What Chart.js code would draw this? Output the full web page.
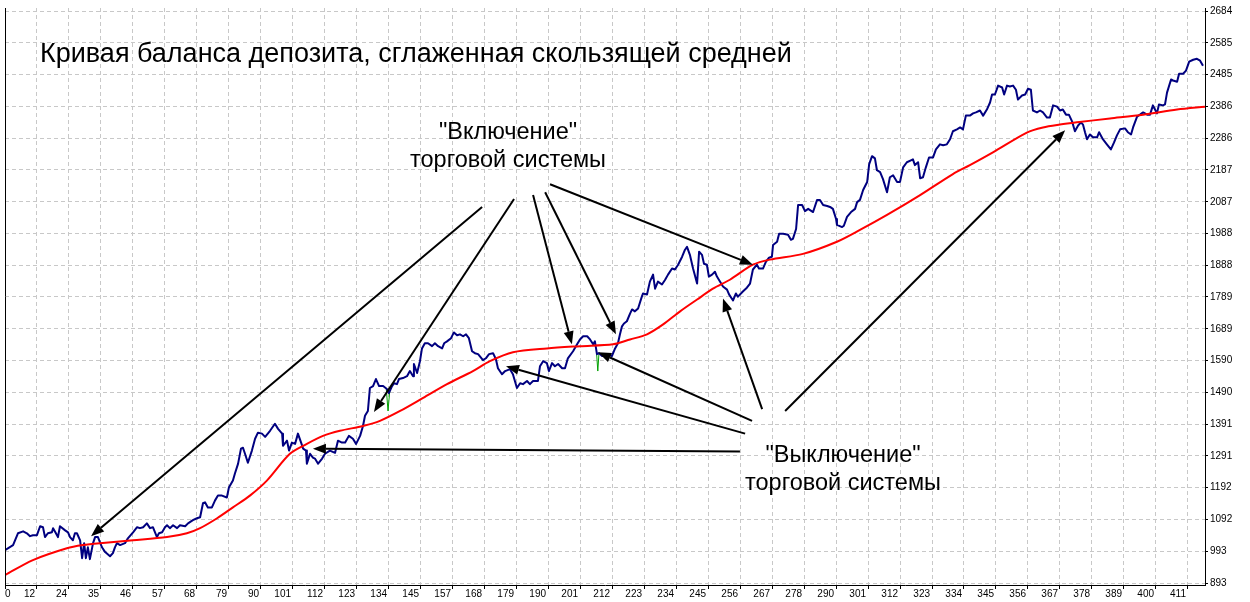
<!DOCTYPE html>
<html>
<head>
<meta charset="utf-8">
<script src="https://cdn.jsdelivr.net/npm/chart.js@4.4.0/dist/chart.umd.min.js"></script>
<style>
  html, body { margin: 0; padding: 0; background: #fff; }
  canvas { display: block; }
</style>
</head>
<body>
<canvas id="myChart" width="1250" height="602"></canvas>
<script>
// balance curve (trade number / balance)
var tradeNo = [
  0,2.8,4.5,6.3,7.6,8.7,9.7,11.1,12.2,13.2,13.9,14.9,16.3,16.7,17.7,18.4,19.1,20.9,21.9,22.6,
  23.6,24.3,25.0,26.1,26.8,27.5,28.1,28.8,29.5,30.6,31.3,32.3,33.7,34.8,36.5,37.5,38.2,38.9,40.0,41.7,
  42.7,44.5,45.9,46.9,48.0,49.3,50.4,51.4,52.8,53.5,54.6,55.6,56.3,57.3,58.4,59.8,60.8,62.6,63.6,65.3,
  66.7,67.8,68.8,69.5,70.5,71.9,73.0,74.0,75.4,77.1,77.8,79.2,79.9,81.0,82.0,82.7,83.4,84.4,
  85.8,86.9,87.9,89.3,90.4,92.1,93.8,94.9,96.3,96.6,98.0,98.7,99.7,100.8,101.8,102.9,103.6,104.6,104.9,106.0,
  107.0,107.7,108.8,110.2,111.2,112.9,114.7,115.7,117.1,118.2,119.5,120.9,122.0,123.4,124.4,125.1,126.1,126.8,127.9,128.9,
  130.0,131.4,132.7,133.4,134.5,135.2,136.2,136.9,138.3,139.7,140.7,141.8,142.1,143.2,144.2,144.9,145.9,147.0,148.4,149.4,
  150.5,151.9,152.6,153.6,155.0,156.0,157.1,158.1,159.2,160.2,161.2,162.3,163.3,164.4,166.1,167.1,168.2,
  169.6,170.6,171.3,172.7,173.8,175.5,176.5,177.9,179.0,180.0,181.4,182.4,183.5,185.2,185.9,187.0,188.3,189.0,190.1,191.1,
  192.2,193.6,194.6,195.6,197.4,198.8,199.8,200.9,202.3,203.3,204.4,205.0,205.7,206.4,207.5,208.5,209.5,210.9,212.0,213.0,
  213.7,214.4,215.1,216.1,217.2,217.9,218.9,220.0,221.3,221.7,223.1,224.1,225.2,225.9,226.9,228.3,229.4,230.4,231.8,232.8,
  233.9,235.3,236.3,237.0,238.0,239.1,240.5,241.2,242.2,242.9,243.9,244.6,245.7,246.7,247.4,248.5,249.5,250.9,251.6,
  253.0,254.0,254.7,256.4,257.8,258.9,259.9,261.3,262.0,263.4,264.4,265.5,266.5,266.9,268.3,269.0,270.4,272.1,273.1,273.8,
  274.9,275.6,277.0,278.0,279.1,280.8,282.2,283.2,284.3,285.7,286.7,287.7,288.8,289.1,290.9,291.5,292.6,294.0,295.4,296.1,
  297.1,298.2,299.6,300.3,301.3,302.3,303.0,304.1,305.1,306.5,307.5,308.6,310.0,311.0,312.1,313.4,314.8,315.5,316.2,317.3,
  318.0,319.0,320.0,321.1,322.5,323.5,324.9,326.0,327.3,328.4,329.4,330.8,331.9,332.9,
  333.9,335.3,336.4,337.4,338.8,339.9,341.2,342.3,343.0,344.0,345.1,346.5,347.2,348.2,349.2,350.3,351.3,352.0,353.4,354.5,
  355.5,356.5,357.2,358.6,359.7,360.7,362.1,363.1,364.2,365.6,366.6,367.6,368.7,369.7,370.8,371.8,372.9,373.9,374.6,375.3,
  376.0,377.0,378.1,379.5,380.2,381.5,382.9,384.3,385.4,386.4,387.5,389.2,390.2,391.3,392.0,393.4,394.4,395.5,396.9,397.9,
  398.9,400.3,401.0,402.4,403.1,403.8,405.2,405.9,407.3,408.0,409.4,410.4,411.5,412.9,414.2,415.3,416.3
];
var balance = [
  996,1012,1049,1055,1049,1040,1043,1043,1071,1068,1037,1049,1052,1065,1049,1037,1071,1058,1052,1037,
  1027,1049,1049,1027,971,1018,971,1005,968,1018,1037,1037,1005,990,977,987,1005,1018,1012,1018,
  1033,1052,1068,1065,1068,1080,1065,1068,1037,1049,1052,1068,1074,1065,1074,1065,1074,1071,1080,1090,
  1096,1099,1143,1146,1130,1130,1152,1167,1167,1161,1192,1214,1236,1267,1314,1317,1298,1270,
  1308,1345,1364,1361,1351,1370,1392,1376,1361,1323,1339,1308,1333,1329,1361,1333,1314,1308,1267,1298,
  1286,1283,1267,1283,1298,1308,1301,1339,1333,1333,1354,1345,1329,1354,1385,1417,1432,1504,1510,1532,
  1510,1510,1501,1488,1510,1519,1516,1532,1535,1541,1557,1541,1579,1551,1588,1628,1644,1644,1635,1644,
  1635,1628,1644,1650,1660,1678,1669,1672,1666,1672,1660,1619,1613,1610,1591,1597,1610,
  1613,1594,1566,1547,1557,1563,1547,1504,1519,1516,1526,1516,1526,1526,1572,1588,1582,1557,1582,1572,
  1579,1566,1566,1597,1619,1641,1656,1666,1666,1656,1641,1650,1610,1613,1604,1610,1610,1604,1628,1644,
  1672,1697,1706,1713,1737,1750,1744,1753,1790,1800,1797,1837,1859,1815,1837,1828,1843,1859,1878,1875,
  1890,1915,1937,1946,1921,1878,1831,1931,1921,1893,1890,1853,1859,1868,1853,1837,1822,1812,1797,
  1778,1800,1790,1806,1818,1831,1875,1890,1878,1878,1899,1912,1915,1952,1962,1987,1987,1984,1968,1971,
  2002,2077,2077,2058,2065,2055,2093,2093,2077,2074,2071,2065,2033,2015,2008,2012,2040,2055,2065,2086,
  2093,2124,2149,2205,2230,2223,2186,2180,2158,2117,2164,2170,2149,2149,2195,2211,2217,2220,2202,2211,
  2161,2164,2195,2226,2226,2251,2267,2264,2267,2283,2308,2314,2320,2314,
  2357,2357,2364,2367,2373,2357,2376,2398,2423,2423,2451,2445,2423,2451,2448,2451,2438,2407,2420,2423,
  2441,2438,2373,2367,2373,2367,2351,2351,2389,2385,2373,2376,2360,2360,2339,2308,2326,2336,2329,2305,
  2283,2298,2289,2289,2305,2283,2267,2251,2273,2295,2314,2317,2305,2298,2320,2354,2360,2367,2360,2360,
  2389,2364,2392,2389,2392,2429,2470,2467,2463,2488,2488,2498,2526,2532,2535,2529,2513
];

// moving average of the balance
var maTradeNo = [
  0,9.7,21.5,27.1,33.0,44.5,56.3,63.2,67.8,73.7,79.2,85.1,91.0,99.0,104.9,110.5,116.4,124.4,130.3,137.3,
  145.3,153.6,162.6,168.5,176.5,188.3,199.8,211.3,217.2,223.1,228.7,234.6,240.5,246.0,251.9,259.9,265.8,277.3,289.1,297.1,
  306.5,318.0,329.4,335.3,343.3,355.1,360.7,366.6,372.5,384.0,395.5,407.3,417.0
];
var maBalance = [
  918,965,1002,1012,1018,1027,1037,1049,1065,1096,1130,1167,1214,1298,1329,1354,1370,1385,1401,1432,
  1473,1516,1557,1588,1616,1628,1635,1641,1656,1672,1703,1744,1781,1815,1843,1890,1906,1924,1962,1999,
  2046,2108,2174,2202,2242,2304,2320,2329,2336,2348,2360,2376,2385
];

// small equity dips
var equityTradeNo = [132.5, 133.1, 133.7, 150, 205.6, 206.0, 206.4];
var equity = [1501, 1432, 1495, null, 1610, 1557, 1613];

var xTickLabels = ['0','12','24','35','46','57','68','79','90','101','112','123','134','145','157','168','179','190','201',
  '212','223','234','245','256','267','278','290','301','312','323','334','345','356','367','378','389','400','411'];
var yTickValues = [893,993,1092,1192,1291,1391,1490,1590,1689,1789,1888,1988,2087,2187,2286,2386,2485,2585,2684];

// arrows: [from trade, from balance, to trade, to balance]
var arrowsOn = [
  [165.8, 2071, 29.9, 1040],
  [176.9, 2096, 128.2, 1429],
  [183.5, 2108, 197.0, 1641],
  [187.7, 2117, 212.3, 1672],
  [189.4, 2142, 259.9, 1890]
];
var arrowsOff = [
  [255.4, 1305, 107.0, 1314],
  [257.2, 1361, 174.1, 1572],
  [259.6, 1401, 206.1, 1616],
  [263.1, 1438, 249.5, 1784],
  [271.1, 1432, 368.4, 2311]
];

function points(xs, ys) {
  return xs.map(function (x, i) { return { x: x, y: ys[i] }; });
}

function drawArrow(ctx, x1, y1, x2, y2) {
  var a = Math.atan2(y2 - y1, x2 - x1);
  var len = 13, w = 5;
  var bx = x2 - len * Math.cos(a), by = y2 - len * Math.sin(a);
  ctx.beginPath();
  ctx.moveTo(x1, y1);
  ctx.lineTo(bx, by);
  ctx.stroke();
  ctx.beginPath();
  ctx.moveTo(x2, y2);
  ctx.lineTo(bx + w * Math.sin(a), by - w * Math.cos(a));
  ctx.lineTo(bx - w * Math.sin(a), by + w * Math.cos(a));
  ctx.closePath();
  ctx.fill();
}

var overlay = {
  id: 'overlay',
  afterDraw: function (chart) {
    var ctx = chart.ctx, area = chart.chartArea;
    var xs = chart.scales.x, ys = chart.scales.y;
    ctx.save();

    // left frame line
    ctx.strokeStyle = '#000';
    ctx.lineWidth = 1;
    ctx.beginPath();
    ctx.moveTo(area.left + 0.5, area.top);
    ctx.lineTo(area.left + 0.5, area.bottom);
    ctx.stroke();

    // x tick labels, right aligned to the tick like the terminal does
    ctx.fillStyle = '#000';
    ctx.font = '10px "Liberation Sans"';
    ctx.textBaseline = 'alphabetic';
    xs.ticks.forEach(function (t, i) {
      var px = Math.round(xs.getPixelForValue(t.value));
      if (i === 0) {
        ctx.textAlign = 'left';
        ctx.fillText(xTickLabels[i], px, area.bottom + 12);
      } else {
        ctx.textAlign = 'right';
        ctx.fillText(xTickLabels[i], px - 2, area.bottom + 12);
      }
    });

    // arrows
    ctx.strokeStyle = '#000';
    ctx.fillStyle = '#000';
    ctx.lineWidth = 2;
    arrowsOn.concat(arrowsOff).forEach(function (a) {
      drawArrow(ctx, xs.getPixelForValue(a[0]), ys.getPixelForValue(a[1]),
        xs.getPixelForValue(a[2]), ys.getPixelForValue(a[3]));
    });

    // texts
    ctx.font = '27px "Liberation Sans"';
    ctx.textBaseline = 'middle';
    ctx.textAlign = 'left';
    ctx.fillText('Кривая баланса депозита, сглаженная скользящей средней', area.left + 35, 55);

    ctx.font = '23.5px "Liberation Sans"';
    ctx.textAlign = 'center';
    ctx.fillText('"Включение"', xs.getPixelForValue(174.8), ys.getPixelForValue(2304));
    ctx.fillText('торговой системы', xs.getPixelForValue(174.8), ys.getPixelForValue(2217));
    ctx.fillText('"Выключение"', xs.getPixelForValue(291.2), ys.getPixelForValue(1292));
    ctx.fillText('торговой системы', xs.getPixelForValue(291.2), ys.getPixelForValue(1205));

    ctx.restore();
  }
};

var ctx = document.getElementById('myChart').getContext('2d');
var myChart = new Chart(ctx, {
  type: 'line',
  data: {
    datasets: [{
      label: 'MA',
      data: points(maTradeNo, maBalance),
      borderColor: '#ff0000',
      borderWidth: 2,
      tension: 0.3
    }, {
      label: 'Balance',
      data: points(tradeNo, balance),
      borderColor: '#000080',
      borderWidth: 2,
      borderJoinStyle: 'round'
    }, {
      label: 'Equity',
      data: points(equityTradeNo, equity),
      borderColor: '#00a000',
      borderWidth: 1,
      spanGaps: false
    }]
  },
  options: {
    responsive: false,
    animation: false,
    devicePixelRatio: 1,
    layout: { padding: { left: 5, top: 5, right: 0, bottom: 0 } },
    elements: { point: { radius: 0 } },
    plugins: {
      legend: { display: false },
      tooltip: { enabled: false }
    },
    scales: {
      x: {
        type: 'linear',
        min: 0,
        max: 417,
        afterBuildTicks: function (scale) {
          scale.ticks = xTickLabels.map(function (l, i) { return { value: i * 411 / 37 }; });
        },
        afterFit: function (scale) { scale.height = 17; },
        ticks: { display: false },
        grid: { color: '#c8c8c8', tickColor: '#000', tickLength: 4, tickBorderDash: [] },
        border: { color: '#000', width: 1, dash: [4, 3] }
      },
      y: {
        type: 'linear',
        position: 'right',
        min: 887,
        max: 2694,
        afterBuildTicks: function (scale) {
          scale.ticks = yTickValues.map(function (v) { return { value: v }; });
        },
        afterFit: function (scale) { scale.width = 45; },
        ticks: {
          color: '#000',
          padding: 2,
          font: { family: 'Liberation Sans', size: 10 },
          callback: function (v) { return String(v); }
        },
        grid: { color: '#c8c8c8', tickColor: '#000', tickLength: 3, tickBorderDash: [] },
        border: { color: '#000', width: 1, dash: [4, 3] }
      }
    }
  },
  plugins: [overlay]
});
</script>
</body>
</html>
